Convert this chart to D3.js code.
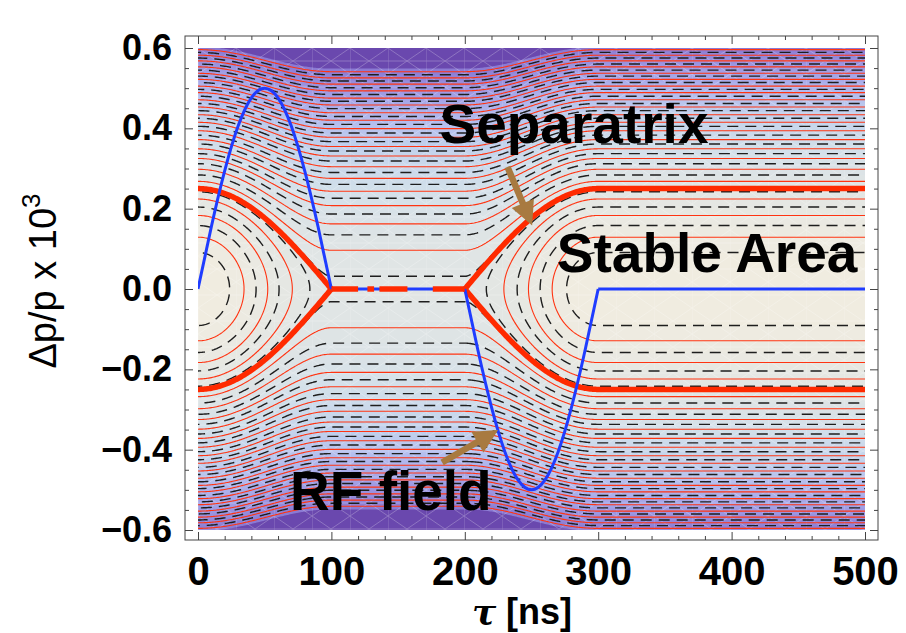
<!DOCTYPE html>
<html>
<head>
<meta charset="utf-8">
<script src="https://cdn.jsdelivr.net/npm/d3@7"></script>
<style>
body{margin:0;background:#fff}
svg{display:block}
</style>
</head>
<body>
<script>
// RF field samples (plotted in the same units as dp/p x 10^3), every 10 ns
const rfTau = [0,10,20,30,40,50,60,70,80,90,100,110,120,130,140,150,160,170,180,190,
               200,210,220,230,240,250,260,270,280,290,300,500];
const rfVal = [0,0.155,0.294,0.405,0.476,0.5,0.476,0.405,0.294,0.155,0,0,0,0,0,0,0,0,0,0,
               0,-0.155,-0.294,-0.405,-0.476,-0.5,-0.476,-0.405,-0.294,-0.155,0,0];
const rfPieces = [[0,100],[100,200],[200,300],[300,500]];

// separatrix half height far from the RF pulses
const sepHeight = 0.25;
// where the separatrix shows along dp/p = 0 between the pulses
const sepFlat = [[100,120],[127,132],[136,157],[176,200]];

// contour levels, given as the dp/p value each contour has for tau >= 300
const redLevels  = [0.129,0.183,0.224,0.268,0.298,0.325,0.349,0.372,0.394,0.415,0.434,
                    0.453,0.471,0.489,0.505,0.522,0.537,0.553,0.568,0.582,0.596];
const dashLevels = [0.091,0.158,0.204,0.242,0.252,0.284,0.312,0.337,0.361,0.383,0.405,
                    0.425,0.444,0.462,0.480,0.497,0.514,0.530,0.545,0.560,0.575,0.589];
// darkest shading starts at this level (same units)
const darkLevel = 0.603;

const xTicks = [0,100,200,300,400,500];
const yTicks = [-0.6,-0.4,-0.2,0,0.2,0.4,0.6];

const notes = [
  {text:"Separatrix", tau:181, dp:0.364},
  {text:"Stable Area", tau:269, dp:0.042},
  {text:"RF field", tau:69, dp:-0.551}
];
const arrows = [
  {from:[232,0.304], to:[250.5,0.158]},
  {from:[183,-0.432], to:[225,-0.351]}
];

const W = 906, H = 633;
const frame = {left:185, right:878, top:36, bottom:540};
const x = d3.scaleLinear().domain([0,500]).range([198,865]);
const y = d3.scaleLinear().domain([-0.6,0.6]).range([530,48]);

const svg = d3.select("body").append("svg").attr("width",W).attr("height",H);
const defs = svg.append("defs");
defs.append("clipPath").attr("id","plot").append("rect")
  .attr("x",x(0)).attr("y",y(0.6)).attr("width",x(500)-x(0)).attr("height",y(-0.6)-y(0.6));
const pat = defs.append("pattern").attr("id","mesh").attr("patternUnits","userSpaceOnUse")
  .attr("width",38).attr("height",26).attr("x",x(0)).attr("y",y(0.6));
[[0,0,0,26],[0,0,38,26],[0,26,38,0],[0,13,38,13]].forEach(l=>{
  pat.append("line").attr("x1",l[0]).attr("y1",l[1]).attr("x2",l[2]).attr("y2",l[3])
    .attr("stroke","#fff").attr("stroke-width",0.8);
});

// potential: running integral of the RF field
const rfAt = t => {
  if (t <= rfTau[0]) return rfVal[0];
  if (t >= rfTau[rfTau.length-1]) return rfVal[rfVal.length-1];
  const i = d3.bisectRight(rfTau, t) - 1;
  const t0 = rfTau[i], t1 = rfTau[i+1];
  return rfVal[i] + (rfVal[i+1]-rfVal[i])*(t-t0)/(t1-t0);
};
const phiTab = [0];
for (let k=1; k<=540; k++) phiTab[k] = phiTab[k-1] + (rfAt(k-1)+rfAt(k))/2;
const phiMax = d3.max(phiTab);
const phi = t => phiTab[Math.min(540, Math.round(Math.abs(t)))];
const sepH = sepHeight*sepHeight;
const ham = (t,d) => d*d + sepH*phi(t)/phiMax;

// grid for the contours, a bit larger than the plot
const tauMin = -20, tauMax = 520, dTau = 1;
const dMin = -0.65, dMax = 0.65, dD = 0.0025;
const nx = Math.round((tauMax-tauMin)/dTau)+1;
const ny = Math.round((dMax-dMin)/dD)+1;
const values = new Float64Array(nx*ny);
for (let j=0; j<ny; j++) for (let i=0; i<nx; i++)
  values[j*nx+i] = ham(tauMin+i*dTau, dMin+j*dD);

const proj = d3.geoTransform({point(px,py){
  this.stream.point(x(tauMin+(px-0.5)*dTau), y(dMin+(py-0.5)*dD));
}});
const path = d3.geoPath(proj);
const cgen = d3.contours().size([nx,ny]);

const redH = redLevels.map(d=>d*d);
const dashH = dashLevels.map(d=>d*d);
const allH = Array.from(new Set([...redH, ...dashH, sepH])).sort(d3.ascending);
const fillH = [...allH, darkLevel*darkLevel];

const shade = d3.scaleLinear()
  .domain([0,0.0625,0.12,0.18,0.24,0.30,0.37])
  .range(["#f1ece0","#e1e5e4","#d3e0ea","#c3d3ec","#b2bbee","#9f9ce4","#8774d0"])
  .interpolate(d3.interpolateRgb).clamp(true);

const plot = svg.append("g").attr("clip-path","url(#plot)");
plot.append("rect").attr("x",x(0)).attr("y",y(0.6)).attr("width",x(500)-x(0))
  .attr("height",y(-0.6)-y(0.6)).attr("fill",shade(fillH[0]/2));
plot.append("g").selectAll("path").data(fillH).join("path")
  .attr("d",L=>path(cgen.contour(values,L)))
  .attr("fill",(L,i)=> i<fillH.length-1 ? shade((L+fillH[i+1])/2) : "#6a48ae")
  .attr("stroke","none");
plot.append("rect").attr("x",x(0)).attr("y",y(0.6)).attr("width",x(500)-x(0))
  .attr("height",y(-0.6)-y(0.6)).attr("fill","url(#mesh)").attr("opacity",0.3);

plot.append("g").selectAll("path").data(redH).join("path")
  .attr("d",L=>path(cgen.contour(values,L)))
  .attr("fill","none").attr("stroke","#ff3412").attr("stroke-width",1.1);
plot.append("g").selectAll("path").data(dashH).join("path")
  .attr("d",L=>path(cgen.contour(values,L)))
  .attr("fill","none").attr("stroke","#1e1e1e").attr("stroke-width",1.4)
  .attr("stroke-dasharray","11,7");

// separatrix branches
const sepPieces = [d3.range(-3,101), d3.range(200,521)];
sepPieces.forEach(ts=>{
  [1,-1].forEach(s=>{
    plot.append("path")
      .attr("d", d3.line().x(t=>x(t)).y(t=>y(s*sepHeight*Math.sqrt(Math.max(0,1-phi(t)/phiMax))))(ts))
      .attr("fill","none").attr("stroke","#ff2a00").attr("stroke-width",5.5);
  });
});

// RF field
const rfLine = d3.line().x(d=>x(d[0])).y(d=>y(d[1])).curve(d3.curveNatural);
rfPieces.forEach(p=>{
  const pts = rfTau.map((t,i)=>[t,rfVal[i]]).filter(d=>d[0]>=p[0] && d[0]<=p[1]);
  plot.append("path").attr("d",rfLine(pts))
    .attr("fill","none").attr("stroke","#1f3cff").attr("stroke-width",3);
});

plot.append("g").selectAll("line").data(sepFlat).join("line")
  .attr("x1",d=>x(d[0])).attr("x2",d=>x(d[1])).attr("y1",y(0)).attr("y2",y(0))
  .attr("stroke","#ff2a00").attr("stroke-width",5.5);

// frame and ticks
svg.append("rect").attr("x",frame.left).attr("y",frame.top)
  .attr("width",frame.right-frame.left).attr("height",frame.bottom-frame.top)
  .attr("fill","none").attr("stroke","#444").attr("stroke-width",1);

const xMinor = d3.range(0,501,20).filter(v=>v%100);
const yMinor = d3.range(-12,13).map(v=>v*0.05).filter(v=>Math.abs(Math.round(v*100))%20);
function styleAxis(g){
  g.select(".domain").remove();
  g.selectAll(".tick line").attr("stroke","#444");
}
svg.append("g").attr("transform",`translate(0,${frame.bottom})`)
  .call(d3.axisBottom(x).tickValues(xTicks).tickSize(-8).tickPadding(17).tickFormat(d3.format("d")))
  .call(styleAxis)
  .call(g=>g.selectAll("text").attr("font-size",40).attr("font-weight","bold")
    .attr("font-family","Liberation Sans, Arial, sans-serif").attr("fill","#000"));
svg.append("g").attr("transform",`translate(0,${frame.bottom})`)
  .call(d3.axisBottom(x).tickValues(xMinor).tickSize(-4).tickFormat("")).call(styleAxis);
svg.append("g").attr("transform",`translate(0,${frame.top})`)
  .call(d3.axisTop(x).tickValues(xTicks).tickSize(-8).tickFormat("")).call(styleAxis);
svg.append("g").attr("transform",`translate(0,${frame.top})`)
  .call(d3.axisTop(x).tickValues(xMinor).tickSize(-4).tickFormat("")).call(styleAxis);

svg.append("g").attr("transform",`translate(${frame.left},0)`)
  .call(d3.axisLeft(y).tickValues(yTicks).tickSize(-8).tickPadding(13).tickFormat(d3.format(".1f")))
  .call(styleAxis)
  .call(g=>g.selectAll("text").attr("font-size",36).attr("font-weight","bold")
    .attr("font-family","Liberation Sans, Arial, sans-serif").attr("fill","#000"));
svg.append("g").attr("transform",`translate(${frame.left},0)`)
  .call(d3.axisLeft(y).tickValues(yMinor).tickSize(-4).tickFormat("")).call(styleAxis);
svg.append("g").attr("transform",`translate(${frame.right},0)`)
  .call(d3.axisRight(y).tickValues(yTicks).tickSize(-8).tickFormat("")).call(styleAxis);
svg.append("g").attr("transform",`translate(${frame.right},0)`)
  .call(d3.axisRight(y).tickValues(yMinor).tickSize(-4).tickFormat("")).call(styleAxis);

// axis titles
svg.append("text").attr("x",522).attr("y",624).attr("text-anchor","middle")
  .attr("font-family","Liberation Sans, Arial, sans-serif").attr("font-size",36)
  .attr("font-weight","bold")
  .call(t=>{
    t.append("tspan").attr("font-style","italic").attr("font-family","DejaVu Serif, serif").text("τ");
    t.append("tspan").text(" [ns]");
  });
const yl = svg.append("text").attr("transform","translate(56,281) rotate(-90)")
  .attr("text-anchor","middle").attr("font-family","Liberation Sans, Arial, sans-serif")
  .attr("font-size",38);
yl.append("tspan").text("Δp/p x 10");
yl.append("tspan").attr("dy",-16).attr("font-size",26).text("3");

// arrows
arrows.forEach(a=>{
  const p0 = [x(a.from[0]), y(a.from[1])], p1 = [x(a.to[0]), y(a.to[1])];
  const dx = p1[0]-p0[0], dy = p1[1]-p0[1], len = Math.hypot(dx,dy);
  const ux = dx/len, uy = dy/len, hl = 24, hw = 12;
  const b = [p1[0]-ux*hl, p1[1]-uy*hl];
  svg.append("line").attr("x1",p0[0]).attr("y1",p0[1]).attr("x2",b[0]+ux*2).attr("y2",b[1]+uy*2)
    .attr("stroke","#a87a40").attr("stroke-width",6.5);
  svg.append("path")
    .attr("d",`M${p1[0]},${p1[1]}L${b[0]-uy*hw},${b[1]+ux*hw}L${b[0]+uy*hw},${b[1]-ux*hw}Z`)
    .attr("fill","#a87a40");
});

svg.append("g").selectAll("text").data(notes).join("text")
  .attr("x",d=>x(d.tau)).attr("y",d=>y(d.dp))
  .attr("font-family","Liberation Sans, Arial, sans-serif").attr("font-size",55)
  .attr("font-weight","bold").attr("fill","#000").text(d=>d.text);
</script>
</body>
</html>
